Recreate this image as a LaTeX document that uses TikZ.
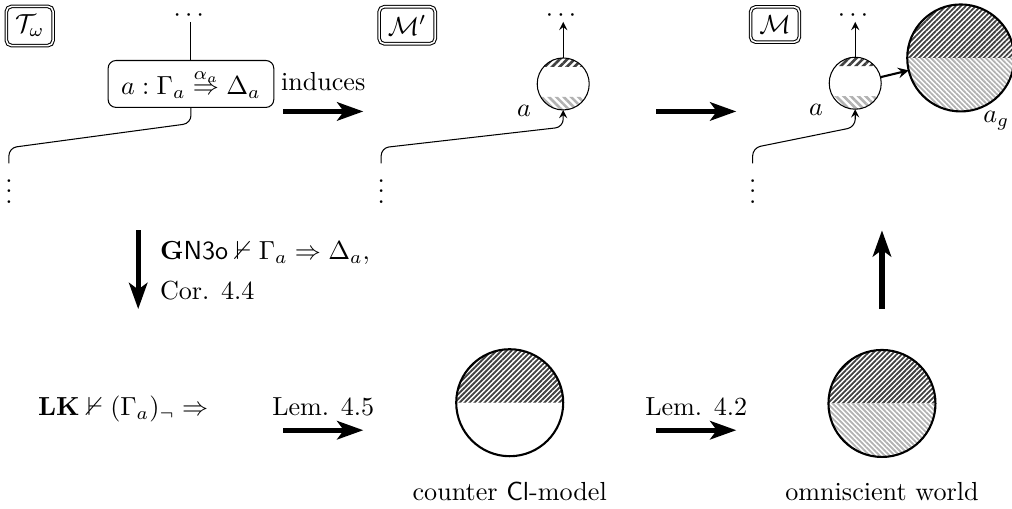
\documentclass[tikz,border=0pt]{standalone}
\usepackage{amsmath}
\usepackage{amssymb}
\usepackage{tikz}
\usetikzlibrary{arrows.meta}
\usetikzlibrary{patterns.meta}
\usetikzlibrary{positioning}

\tikzset{
  modelbox/.style   = {draw, double, double distance=0.6pt, rounded corners=2pt},
  seqbox/.style     = {draw, rounded corners=3pt, inner xsep=5pt},
  world/.style      = {circle, draw, thick, minimum size=1.44cm, inner sep=0pt, outer sep=0pt},
  smallworld/.style = {circle, draw, minimum size=0.7cm, inner sep=0pt, outer sep=0pt},
  bigarrow/.style   = {line width=2pt, -{Stealth[length=10pt, width=7pt, inset=2.5pt]}},
  darkhatch/.style  = {pattern={Lines[angle=45, distance=1.35pt, line width=0.7pt]}, pattern color=black!75},
  lighthatch/.style = {pattern={Lines[angle=-45, distance=1.35pt, line width=0.7pt]}, pattern color=black!30},
  darkcap/.style    = {pattern={Lines[angle=45, distance=2pt, line width=1pt]}, pattern color=black!75},
  lightcap/.style   = {pattern={Lines[angle=-45, distance=2pt, line width=1pt]}, pattern color=black!30},
  hdots/.style      = {inner sep=0pt},
  vdots/.style      = {inner sep=0pt, anchor=north},
}

\begin{document}
\begin{tikzpicture}[>=stealth]

\def\r{0.35}  % radius of a small world
\def\R{0.72}  % radius of a big world

\useasboundingbox (0,0) rectangle (13.62,6.84);

% the three boxes on top
\node[modelbox] (tomega) at (0.40,6.49) {$\mathcal{T}_\omega$};
\node[modelbox] (mprime) at (5.48,6.50) {$\mathcal{M}'$};
\node[modelbox] (mfull)  at (10.43,6.51) {$\mathcal{M}$};

% tree T_omega
\node[hdots] (tdots) at (2.57,6.63) {$\cdots$};
\node[seqbox] (seq) at (2.57,5.71) {$a : \Gamma_a \stackrel{\alpha_a}{\Rightarrow} \Delta_a$};
\node[vdots] (tvdots) at (0.12,4.64) {$\vdots$};
\draw (tdots) -- (seq);
\draw[rounded corners=3pt] (seq.south) -- (2.57,5.18) -- (0.12,4.85) -- (tvdots.north);

% model M'
\coordinate (pc) at (7.58,5.71);
\fill[darkcap]  (pc) ++(41:\r) arc[start angle=41, end angle=139, radius=\r] -- cycle;
\fill[lightcap] (pc) ++(210:\r) arc[start angle=210, end angle=330, radius=\r] -- cycle;
\node[smallworld, label=208:$a$] (pa) at (pc) {};
\node[hdots] (pdots) at (7.58,6.63) {$\cdots$};
\node[vdots] (pvdots) at (5.13,4.64) {$\vdots$};
\draw[->] (pa) -- (pdots);
\draw[->, rounded corners=3pt] (pvdots.north) -- (5.13,4.85) -- (7.58,5.13) -- (pa.south);

% model M
\coordinate (mc) at (11.51,5.72);
\fill[darkcap]  (mc) ++(41:\r) arc[start angle=41, end angle=139, radius=\r] -- cycle;
\fill[lightcap] (mc) ++(210:\r) arc[start angle=210, end angle=330, radius=\r] -- cycle;
\node[smallworld, label=208:$a$] (ma) at (mc) {};
\node[hdots] (mdots) at (11.51,6.63) {$\cdots$};
\node[vdots] (mvdots) at (10.13,4.64) {$\vdots$};
\draw[->] (ma) -- (mdots);
\draw[->, rounded corners=3pt] (mvdots.north) -- (10.13,4.85) -- (11.51,5.13) -- (ma.south);

% the world a_g
\coordinate (gc) at (12.93,6.06);
\fill[darkhatch]  (gc) ++(0:\R) arc[start angle=0, end angle=180, radius=\R] -- cycle;
\fill[lighthatch] (gc) ++(180:\R) arc[start angle=180, end angle=360, radius=\R] -- cycle;
\node[world] (ag) at (gc) {};
\node (aglbl) at (13.41,5.22) {$a_g$};
\draw[->, thick] (ma) -- (ag);

% counter model
\coordinate (cc) at (6.86,1.42);
\fill[darkhatch] (cc) ++(0:\R) arc[start angle=0, end angle=180, radius=\R] -- cycle;
\node[world] (counter) at (cc) {};
\node (counterlbl) at (6.86,0.22) {counter \textsf{Cl}-model};

% omniscient world
\coordinate (oc) at (11.87,1.41);
\fill[darkhatch]  (oc) ++(0:\R) arc[start angle=0, end angle=180, radius=\R] -- cycle;
\fill[lighthatch] (oc) ++(180:\R) arc[start angle=180, end angle=360, radius=\R] -- cycle;
\node[world] (omni) at (oc) {};
\node (omnilbl) at (11.87,0.22) {omniscient world};

% texts
\node (ind) at (4.35,5.74) {induces};
\node[anchor=base west] (gn)  at (2.03,3.35) {$\mathbf{G}\mathsf{N3o} \nvdash \Gamma_a \Rightarrow \Delta_a,$};
\node[anchor=base west] (cor) at (2.03,2.81) {Cor. 4.4};
\node[anchor=base west] (lk)  at (0.39,1.25) {$\mathbf{LK} \nvdash (\Gamma_a)_\neg \Rightarrow$};
\node[anchor=base] (lem5) at (4.35,1.25) {Lem. 4.5};
\node[anchor=base] (lem2) at (9.37,1.25) {Lem. 4.2};

% big arrows
\coordinate (i1) at (3.81,5.34);  \coordinate (i2) at (4.89,5.34);
\coordinate (j1) at (8.83,5.34);  \coordinate (j2) at (9.91,5.34);
\coordinate (d1) at (1.86,3.74);  \coordinate (d2) at (1.86,2.68);
\coordinate (u1) at (11.87,2.68); \coordinate (u2) at (11.87,3.74);
\coordinate (k1) at (3.81,1.05);  \coordinate (k2) at (4.89,1.05);
\coordinate (l1) at (8.83,1.05);  \coordinate (l2) at (9.91,1.05);
\draw[bigarrow] (i1) -- (i2);
\draw[bigarrow] (j1) -- (j2);
\draw[bigarrow] (d1) -- (d2);
\draw[bigarrow] (u1) -- (u2);
\draw[bigarrow] (k1) -- (k2);
\draw[bigarrow] (l1) -- (l2);

\end{tikzpicture}
\end{document}
